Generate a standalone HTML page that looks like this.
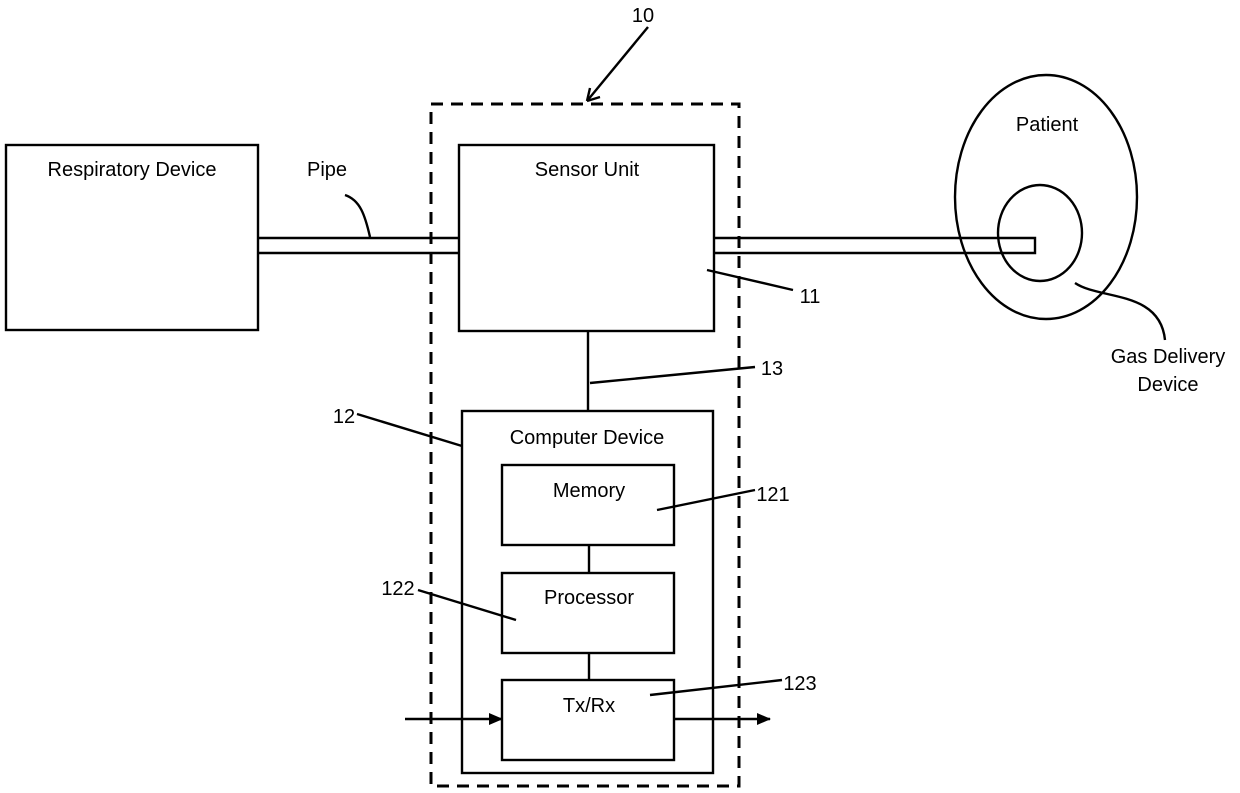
<!DOCTYPE html>
<html><head><meta charset="utf-8"><style>
html,body{margin:0;padding:0;background:#fff;}
svg{display:block;}
text{font-family:"Liberation Sans",sans-serif;font-size:20px;fill:#000;}
</style></head><body>
<svg width="1240" height="793" viewBox="0 0 1240 793" xmlns="http://www.w3.org/2000/svg">
<defs>
<marker id="ah" markerWidth="14" markerHeight="12" refX="13" refY="6" orient="auto" markerUnits="userSpaceOnUse">
<path d="M0,0 L14,6 L0,12 Z" fill="#000"/></marker>
</defs>
<g fill="none" stroke="#000" stroke-width="2.4">
<rect x="431" y="104" width="308" height="682" stroke-width="3" stroke-dasharray="12,8"/>
<rect x="6" y="145" width="252" height="185"/>
<rect x="459" y="145" width="255" height="186"/>
<line x1="258" y1="238" x2="459" y2="238"/>
<line x1="258" y1="253" x2="459" y2="253"/>
<path d="M714,238 H1035 V253 H714"/>
<ellipse cx="1046" cy="197" rx="91" ry="122"/>
<ellipse cx="1040" cy="233" rx="42" ry="48"/>
<path d="M345,195 C360,200 365,215 370,237"/>
<path d="M1075,283 C1100,300 1160,290 1165,340"/>
<line x1="707" y1="270" x2="793" y2="290"/>
<line x1="588" y1="331" x2="588" y2="411"/>
<line x1="590" y1="383" x2="755" y2="367"/>
<rect x="462" y="411" width="251" height="362"/>
<line x1="357" y1="414" x2="462" y2="446"/>
<rect x="502" y="465" width="172" height="80"/>
<line x1="589" y1="545" x2="589" y2="573"/>
<rect x="502" y="573" width="172" height="80"/>
<line x1="589" y1="653" x2="589" y2="680"/>
<rect x="502" y="680" width="172" height="80"/>
<line x1="657" y1="510" x2="755" y2="490"/>
<line x1="418" y1="590" x2="516" y2="620"/>
<line x1="650" y1="695" x2="782" y2="680"/>
<line x1="405" y1="719" x2="502" y2="719" marker-end="url(#ah)"/>
<line x1="674" y1="719" x2="770" y2="719" marker-end="url(#ah)"/>
<line x1="648" y1="27" x2="587" y2="101"/>
<path d="M587,101 L590,88 M587,101 L600,97"/>
</g>
<text x="132" y="176" text-anchor="middle">Respiratory Device</text>
<text x="327" y="176" text-anchor="middle">Pipe</text>
<text x="587" y="176" text-anchor="middle">Sensor Unit</text>
<text x="1047" y="131" text-anchor="middle">Patient</text>
<text x="1168" y="363" text-anchor="middle">Gas Delivery</text>
<text x="1168" y="391" text-anchor="middle">Device</text>
<text x="810" y="303" text-anchor="middle">11</text>
<text x="772" y="375" text-anchor="middle">13</text>
<text x="344" y="423" text-anchor="middle">12</text>
<text x="587" y="444" text-anchor="middle">Computer Device</text>
<text x="589" y="497" text-anchor="middle">Memory</text>
<text x="773" y="501" text-anchor="middle">121</text>
<text x="589" y="604" text-anchor="middle">Processor</text>
<text x="398" y="595" text-anchor="middle">122</text>
<text x="589" y="712" text-anchor="middle">Tx/Rx</text>
<text x="800" y="690" text-anchor="middle">123</text>
<text x="643" y="22" text-anchor="middle">10</text>
</svg>
</body></html>
